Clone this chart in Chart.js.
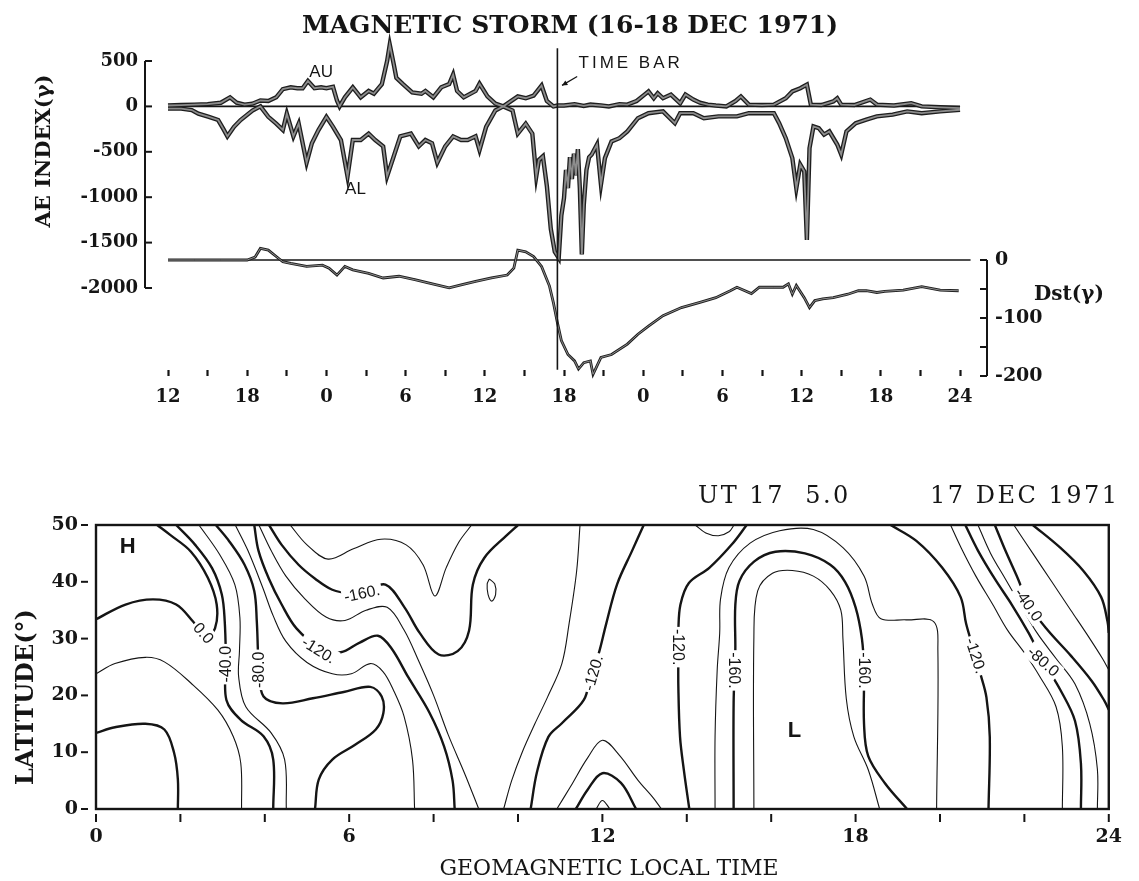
<!DOCTYPE html>
<html lang="en">
<head>
<meta charset="UTF-8">
<title>Magnetic Storm (16-18 Dec 1971)</title>
<script src="https://cdn.jsdelivr.net/npm/chart.js"></script>
<style>
  html, body { margin: 0; padding: 0; background: #fff; }
  body { width: 1139px; height: 881px; position: relative; overflow: hidden; }
  canvas { position: absolute; left: 0; }
  #stormChart { top: 0; }
  #mapChart { top: 430px; }
</style>
</head>
<body>
<canvas id="stormChart" width="1139" height="430"></canvas>
<canvas id="mapChart" width="1139" height="451"></canvas>
<script>
// ---- top panel: hours counted from 16 Dec 00 UT ----
const stormHourTicks = [12, 15, 18, 21, 24, 27, 30, 33, 36, 39, 42, 45, 48, 51, 54, 57, 60, 63, 66, 69, 72];
const aeTicks = [500, 0, -500, -1000, -1500, -2000];
const dstTicks = [0, -100, -200];
const dstBracketTicks = [0, -50, -100, -150, -200];
const timeBarHour = 41.5;

const auHour = [12, 13, 14, 15, 16, 16.7, 17.2, 17.8, 18.4, 19, 19.6, 20.2, 20.7, 21.3, 21.8, 22.2, 22.6, 23.1, 23.6, 24,
  24.5, 24.8, 25, 25.4, 26, 26.6, 27.2, 27.6, 28.2, 28.6, 28.8, 29.1, 29.3, 29.8, 30.5, 31.2, 31.5, 32.1, 32.7, 33.3,
  33.6, 33.9, 34.4, 35.3, 35.6, 36.2, 36.8, 37.4, 37.9, 38.5, 39.1, 39.7, 40.3, 40.7, 41.2, 41.5, 42, 42.8, 43.5, 44,
  44.8, 45.4, 46.2, 46.8, 47.5, 48.1, 48.4, 48.8, 49.1, 49.5, 50.1, 50.8, 51.2, 51.8, 52.3, 52.9, 53.5, 54.3, 55, 55.4,
  56, 57, 57.9, 58.8, 59.3, 59.9, 60.4, 60.7, 61.5, 62.4, 62.7, 63, 64, 65.2, 65.7, 67, 68.3, 69.1, 70.5, 72];
const auValue = [10, 15, 20, 25, 40, 100, 40, 20, 30, 65, 60, 100, 190, 210, 200, 200, 280, 200, 210, 200,
  215, 65, 0, 100, 210, 100, 170, 140, 245, 500, 680, 465, 315, 245, 155, 140, 170, 100, 210, 245,
  350, 170, 100, 170, 250, 110, 30, 0, 50, 110, 90, 120, 230, 60, 0, 10, 10, 25, 5, 20,
  10, 0, 25, 20, 60, 130, 165, 90, 145, 90, 130, 35, 130, 75, 40, 20, 10, 0, 60, 110,
  20, 15, 20, 90, 165, 200, 240, 20, 15, 55, 90, 20, 15, 75, 20, 10, 35, 0, -10, -20];

const alHour = [12, 13, 13.8, 14.3, 15.1, 15.8, 16.2, 16.5, 17, 17.5, 18.4, 19, 19.6, 20.2, 20.7, 21, 21.5, 21.9, 22.5, 22.9,
  23.4, 24, 24.5, 25.1, 25.6, 26, 26.6, 27.2, 27.7, 28.3, 28.6, 29.1, 29.6, 30.4, 31, 31.5, 32, 32.4, 33, 33.6,
  34.2, 34.7, 35.3, 35.6, 36.1, 36.8, 37.4, 38.1, 38.5, 39.1, 39.6, 39.9, 40.1, 40.4, 40.7, 41, 41.3, 41.6, 41.8, 42,
  42.15, 42.3, 42.45, 42.6, 42.75, 42.9, 43.05, 43.2, 43.35, 43.5, 43.7, 43.9, 44.1, 44.5, 44.8, 45.1, 45.6, 46.2, 46.8, 47.6,
  48.4, 49.5, 50.4, 50.8, 51.8, 52.6, 53.7, 55.1, 56, 57.9, 58.3, 58.8, 59.3, 59.6, 59.9, 60.2, 60.4, 60.6, 60.9, 61.3,
  61.7, 62.1, 62.7, 63, 63.4, 64.1, 64.9, 65.7, 66.9, 68, 69.1, 70.5, 72];
const alValue = [-25, -25, -40, -80, -115, -150, -250, -330, -225, -150, -45, 0, -115, -190, -260, -80, -330, -190, -620, -405,
  -260, -115, -225, -370, -770, -370, -370, -300, -370, -440, -770, -550, -330, -300, -440, -370, -405, -620, -440, -330,
  -370, -370, -330, -480, -225, -45, 0, -45, -300, -190, -300, -770, -590, -550, -875, -1350, -1600, -1670, -1200, -1010,
  -700, -900, -560, -800, -520, -760, -470, -900, -1630, -1080, -700, -560, -530, -420, -860, -570, -385, -350, -275, -130,
  -75, -55, -185, -75, -75, -130, -110, -110, -75, -75, -185, -350, -570, -900, -640, -715, -1470, -460, -220, -240,
  -310, -275, -420, -530, -275, -185, -145, -110, -90, -55, -75, -55, -37];

const dstHour = [12, 14, 16, 18, 18.6, 19, 19.6, 20.2, 20.7, 21.3, 22.5, 23.7, 24.2, 24.8, 25.4, 26, 27.2, 28.3, 29.5, 30.7,
  31.8, 33.3, 34.2, 35.3, 36.5, 37.7, 38.2, 38.5, 39.1, 39.7, 40.3, 40.9, 41.2, 41.5, 41.8, 42.3, 42.8, 43.1, 43.5, 44,
  44.2, 44.8, 45.6, 46.8, 47.6, 48.4, 49.5, 50.9, 52.3, 53.5, 54.6, 55.1, 56.2, 56.8, 57.9, 58.6, 59, 59.3, 59.6, 60.2,
  60.6, 61, 61.6, 62.4, 63.5, 64.3, 64.9, 65.7, 66.3, 67.7, 69.1, 70.5, 71.9];
const dstValue = [0, 0, 0, 0, 5, 20, 17, 6, -3, -6, -11, -9, -14, -26, -11, -17, -23, -31, -28, -34,
  -40, -48, -43, -37, -31, -26, -14, 17, 14, 6, -11, -45, -74, -108, -139, -163, -174, -188, -177, -174,
  -197, -168, -163, -145, -128, -114, -96, -82, -73, -65, -53, -47, -58, -47, -47, -47, -41, -59, -44, -65,
  -82, -70, -67, -65, -59, -53, -53, -56, -54, -52, -46, -52, -53];

// ---- bottom panel: contour lines as [geomagnetic local time (h), latitude (deg)] ----
const gmltTicks = [0, 2, 4, 6, 8, 10, 12, 14, 16, 18, 20, 22, 24];
const latTicks = [0, 10, 20, 30, 40, 50];

const ctrZeroWest = [[0, 33.4], [0.7, 36], [1.35, 36.9], [1.9, 36], [2.3, 33], [2.6, 30.3], [2.82, 31.8], [2.86, 36], [2.65, 40.7], [2.25, 45.3], [1.75, 48.3], [1.45, 50]];
const ctrM20West = [[0, 23.8], [0.45, 25.6], [1.17, 26.7], [1.62, 25.9], [2.26, 22.1], [2.89, 17.4], [3.25, 12.8], [3.43, 8.1], [3.45, 0]];
const ctrM40West = [[0, 13.4], [0.45, 14.4], [1.17, 15], [1.62, 14], [1.85, 9.9], [1.94, 5.2], [1.94, 0]];
const ctrM40 = [[1.9, 50], [2.35, 46.5], [2.75, 42.4], [2.98, 37.8], [3.05, 33.1], [3.08, 26], [3.09, 19.2], [3.43, 15.7], [3.97, 12.8], [4.2, 8.7], [4.2, 0]];
const ctrM60 = [[2.44, 50], [2.93, 44.8], [3.29, 39.5], [3.41, 33.7], [3.4, 27.9], [3.38, 23.3], [3.55, 18], [4.15, 13.4], [4.47, 8.7], [4.51, 0]];
const ctrM80 = [[2.84, 50], [3.16, 47.1], [3.52, 43], [3.75, 38.4], [3.81, 33.1], [3.84, 27.3], [3.86, 24.4], [3.97, 19.8], [4.42, 18.6], [5.14, 19.5], [5.87, 20.6], [6.5, 21.5], [6.77, 19.8], [6.81, 16.9], [6.63, 14], [6.14, 11.3], [5.6, 8.7], [5.28, 5.2], [5.19, 0]];
const ctrM100 = [[3.3, 50], [3.6, 45.5], [3.95, 39], [4.2, 34], [4.5, 29.5], [5, 25.8], [5.6, 23.8], [6.05, 23.8], [6.5, 25.6], [6.8, 24.2], [7.05, 20.9], [7.3, 16.3], [7.5, 8.7], [7.55, 0]];
const ctrM120 = [[3.75, 50], [3.85, 45.5], [4.1, 40.5], [4.4, 36], [4.75, 31.8], [5.3, 28.4], [5.8, 27.6], [6.25, 29.3], [6.68, 30.5], [7, 28.3], [7.4, 23.2], [7.9, 17], [8.25, 11], [8.45, 5], [8.5, 0]];
const ctrM140 = [[3.86, 50], [4.15, 45.5], [4.5, 41], [4.95, 37], [5.45, 33.8], [5.9, 33.2], [6.4, 35], [6.9, 35.5], [7.3, 31.5], [7.65, 26], [8, 20], [8.35, 13], [8.75, 6], [9.07, 0]];
const ctrM160 = [[4.1, 50], [4.4, 46.5], [4.8, 43], [5.2, 40.5], [5.6, 38.6], [6, 38], [6.36, 38.3], [6.86, 39.5], [7.31, 35.5], [7.67, 31], [8.12, 27.2], [8.57, 27.8], [8.84, 31.4], [8.93, 39.5], [9.2, 44.2], [9.75, 48.3], [10, 50]];
const ctrM180 = [[4.6, 50], [5, 46.5], [5.5, 44], [6.1, 45.8], [6.75, 47.5], [7.35, 46.5], [7.75, 43], [8.03, 37.5], [8.3, 42.5], [8.6, 47], [8.9, 50]];
const ctrLoop = [[9.32, 40.5], [9.45, 39.6], [9.47, 37.8], [9.38, 36.6], [9.29, 37.8], [9.27, 39.6], [9.32, 40.5]];
const ctrNoonThin = [[9.66, 0], [9.85, 5], [10.1, 10], [10.4, 15], [10.7, 19.7], [11.04, 25.6], [11.21, 32.6], [11.39, 41.9], [11.47, 50]];
const ctrNoonThick = [[10.3, 0], [10.45, 6.5], [10.72, 12.7], [11.04, 15.1], [11.56, 19.2], [11.72, 23.4], [11.91, 27.3], [12.09, 32.6], [12.35, 39.6], [12.7, 45.4], [12.98, 50]];
const ctrNoonArcOuter = [[10.92, 0], [11.25, 4], [11.65, 9], [12, 12.1], [12.4, 9.5], [12.85, 5], [13.2, 2], [13.4, 0]];
const ctrNoonArcInner = [[11.37, 0], [11.65, 3.4], [12, 6.3], [12.44, 4.6], [12.8, 0]];
const ctrNoonArcCore = [[11.85, 0], [12, 1.5], [12.18, 0]];
const ctrTopDip = [[14.2, 50], [14.45, 48.6], [14.75, 48.1], [15, 48.8], [15.12, 50]];
const ctrDuskM120 = [[15.42, 50], [15.07, 46.6], [14.54, 42.5], [14.05, 39.8], [13.85, 36], [13.8, 31.4], [13.8, 27.5], [13.8, 21.5], [13.84, 12.7], [13.93, 6.9], [14.06, 0]];
const ctrDuskM140 = [[14.67, 0], [14.67, 12.7], [14.72, 24.4], [14.78, 31], [14.8, 37], [15, 42.5], [15.5, 46.8], [16.2, 49], [17, 49.2], [17.7, 46], [18.2, 41], [18.4, 36], [18.6, 33.5], [19.2, 33.3], [19.85, 33], [19.95, 28], [19.92, 0]];
const ctrDuskM160 = [[15.11, 0], [15.11, 18.7], [15.15, 28], [15.15, 35.9], [15.25, 40.2], [15.6, 43.6], [16.1, 45.3], [16.8, 45], [17.4, 43], [17.75, 40], [18, 35.5], [18.15, 30], [18.2, 24.4], [18.2, 15], [18.3, 9.3], [18.7, 4.5], [19.22, 0]];
const ctrDuskM180 = [[15.59, 0], [15.59, 30.3], [15.68, 38.4], [16.03, 41.5], [16.5, 42], [17, 41], [17.4, 38.5], [17.65, 35], [17.7, 30], [17.78, 19.4], [17.96, 12.7], [18.3, 6.9], [18.57, 0]];
const ctrEveM120 = [[18.83, 50], [19.44, 47.2], [20.05, 42.5], [20.49, 37.3], [20.62, 32.6], [20.8, 28], [20.95, 24], [21.1, 19.7], [21.18, 12.7], [21.15, 0]];
const ctrEveM100 = [[20.25, 50], [20.5, 46], [20.85, 41], [21.25, 36], [21.6, 31.5], [22, 27.5], [22.35, 23.5], [22.75, 18], [22.9, 11], [22.9, 0]];
const ctrEveM80 = [[20.6, 50], [20.9, 45.5], [21.3, 40.5], [21.7, 36], [22.1, 31], [22.45, 26], [22.85, 21], [23.2, 15.5], [23.34, 8], [23.34, 0]];
const ctrEveM60 = [[20.9, 50], [21.2, 45], [21.55, 40.5], [21.9, 36], [22.3, 31], [22.75, 26.5], [23.2, 22], [23.55, 15], [23.73, 7], [23.73, 0]];
const ctrEveM40 = [[21.3, 50], [21.55, 45.5], [21.85, 40.5], [22.1, 36], [22.55, 31.5], [23.1, 27], [23.6, 22.5], [23.9, 19], [24, 17.5]];
const ctrEveM20 = [[21.75, 50], [22.2, 45], [22.65, 40], [23.1, 35], [23.55, 30], [23.85, 26.5], [24, 24.5]];
const ctrEveZero = [[22.2, 50], [22.85, 46], [23.4, 41.9], [23.82, 37.3], [23.97, 33], [24, 31]];

const contourLabelText = ['0.0', '-40.0', '-80.0', '-120.', '-160.', '-120.', '-120.', '-160.', '-160.', '-120.', '-40.0', '-80.0'];
const contourLabelHour = [2.55, 3.08, 3.86, 5.28, 6.3, 11.78, 13.8, 15.14, 18.22, 20.85, 22.1, 22.45];
const contourLabelLat = [31.0, 25.5, 24.5, 28.0, 38.0, 24.0, 28.5, 24.4, 24.4, 27.0, 36.0, 26.0];

// ---- styling ----
const SERIF = "'DejaVu Serif', 'Liberation Serif', serif";
const SANS = "'Liberation Sans', Arial, sans-serif";
const INK = '#151515';
Chart.defaults.color = INK;

const pts = (xs, ys) => xs.map((x, i) => ({ x: x, y: ys[i] }));
const auPts = pts(auHour, auValue);
const alPts = pts(alHour, alValue);
const dstPts = pts(dstHour, dstValue);

// pixel placement of the top panel: hour 12 -> 168px, hour 72 -> 960px, AE 500 -> 61px, AE -2000 -> 288px, Dst 0 -> 260px, Dst -200 -> 376px
const topArea = { left: 145, right: 987, top: 40, bottom: 370 };
const pxPerHour = (960 - 168) / 60;
const aePerPx = 2500 / (288 - 61);
const dstPerPx = 200 / (376 - 260);

function tag(ctx, text, x, y, deg, font, pad, align, spacing) {
  ctx.save();
  ctx.translate(x, y);
  ctx.rotate(deg * Math.PI / 180);
  ctx.font = font;
  if (spacing && 'letterSpacing' in ctx) ctx.letterSpacing = spacing;
  const w = ctx.measureText(text).width;
  if (pad) {
    ctx.fillStyle = '#fff';
    ctx.fillRect(-w / 2 - pad, -9, w + pad * 2, 18);
  }
  ctx.fillStyle = INK;
  ctx.textAlign = align || 'center';
  ctx.textBaseline = 'middle';
  ctx.fillText(text, 0, 1);
  ctx.restore();
}

const stormDecor = {
  id: 'stormDecor',
  afterDraw(chart) {
    const { ctx, chartArea: a } = chart;
    const { x, ae, dst } = chart.scales;
    ctx.save();
    ctx.strokeStyle = INK;
    ctx.lineWidth = 2;
    // AE bracket with ticks pointing inward
    ctx.beginPath();
    ctx.moveTo(a.left, ae.getPixelForValue(aeTicks[0]));
    ctx.lineTo(a.left, ae.getPixelForValue(aeTicks[aeTicks.length - 1]));
    ctx.stroke();
    aeTicks.forEach(v => {
      const y = ae.getPixelForValue(v);
      ctx.beginPath(); ctx.moveTo(a.left, y); ctx.lineTo(a.left + 7, y); ctx.stroke();
    });
    // Dst bracket
    ctx.beginPath();
    ctx.moveTo(a.right, dst.getPixelForValue(0));
    ctx.lineTo(a.right, dst.getPixelForValue(-200));
    ctx.stroke();
    dstBracketTicks.forEach(v => {
      const y = dst.getPixelForValue(v);
      ctx.beginPath(); ctx.moveTo(a.right, y); ctx.lineTo(a.right - 7, y); ctx.stroke();
    });
    // arrow pointing at the time bar
    const ax0 = x.getPixelForValue(43.0), ay0 = ae.getPixelForValue(330);
    const ax1 = x.getPixelForValue(41.85), ay1 = ae.getPixelForValue(231);
    ctx.lineWidth = 1.3;
    ctx.beginPath(); ctx.moveTo(ax0, ay0); ctx.lineTo(ax1, ay1); ctx.stroke();
    const ang = Math.atan2(ay1 - ay0, ax1 - ax0);
    ctx.beginPath();
    ctx.moveTo(ax1, ay1);
    ctx.lineTo(ax1 - 6 * Math.cos(ang - 0.45), ay1 - 6 * Math.sin(ang - 0.45));
    ctx.lineTo(ax1 - 6 * Math.cos(ang + 0.45), ay1 - 6 * Math.sin(ang + 0.45));
    ctx.closePath();
    ctx.fillStyle = INK;
    ctx.fill();
    ctx.restore();

    tag(ctx, 'MAGNETIC STORM (16-18 DEC 1971)', 570, 25, 0, `bold 25px ${SERIF}`);
    tag(ctx, 'AE INDEX(\u03b3)', 44, 151, -90, `bold 21px ${SERIF}`);
    tag(ctx, 'Dst(\u03b3)', 1069, 294, 0, `bold 20px ${SERIF}`);
    tag(ctx, 'TIME BAR', x.getPixelForValue(43.1), 62, 0, `17px ${SANS}`, 0, 'left', '3px');
    tag(ctx, 'AU', x.getPixelForValue(23.6), ae.getPixelForValue(390), 0, `17px ${SANS}`);
    tag(ctx, 'AL', x.getPixelForValue(26.2), ae.getPixelForValue(-900), 0, `17px ${SANS}`);
  }
};

const traceBase = { pointRadius: 0, fill: false, tension: 0, clip: false };
const storm = new Chart(document.getElementById('stormChart'), {
  type: 'line',
  data: {
    datasets: [
      { ...traceBase, label: 'time bar', data: [{ x: timeBarHour, y: 640 }, { x: timeBarHour, y: -2900 }], yAxisID: 'ae', borderColor: INK, borderWidth: 1.6, order: 0 },
      { ...traceBase, label: 'AU', data: auPts, yAxisID: 'ae', borderColor: '#8c8c8c', borderWidth: 1.8, order: 1 },
      { ...traceBase, label: 'AL', data: alPts, yAxisID: 'ae', borderColor: '#8c8c8c', borderWidth: 1.8, order: 1 },
      { ...traceBase, label: 'Dst', data: dstPts, yAxisID: 'dst', borderColor: '#9a9a9a', borderWidth: 0.9, order: 1 },
      { ...traceBase, label: 'AU edge', data: auPts, yAxisID: 'ae', borderColor: '#1e1e1e', borderWidth: 4.4, order: 2 },
      { ...traceBase, label: 'AL edge', data: alPts, yAxisID: 'ae', borderColor: '#1e1e1e', borderWidth: 4.4, order: 2 },
      { ...traceBase, label: 'Dst edge', data: dstPts, yAxisID: 'dst', borderColor: '#1e1e1e', borderWidth: 2.8, order: 2 },
      { ...traceBase, label: 'AE zero', data: [{ x: 12, y: 0 }, { x: 72, y: 0 }], yAxisID: 'ae', borderColor: INK, borderWidth: 1.8, order: 3 },
      { ...traceBase, label: 'Dst zero', data: [{ x: 12, y: 0 }, { x: 72.8, y: 0 }], yAxisID: 'dst', borderColor: INK, borderWidth: 1.5, order: 3 }
    ]
  },
  options: {
    responsive: false,
    animation: false,
    events: [],
    layout: { padding: { top: topArea.top, left: 0, right: 0, bottom: 0 } },
    plugins: { legend: { display: false }, tooltip: { enabled: false } },
    scales: {
      x: {
        type: 'linear',
        min: 12 - (168 - topArea.left) / pxPerHour,
        max: 72 + (topArea.right - 960) / pxPerHour,
        afterFit: s => { s.height = 430 - topArea.bottom; },
        afterBuildTicks: s => { s.ticks = stormHourTicks.map(v => ({ value: v })); },
        ticks: {
          autoSkip: false, maxRotation: 0, padding: 11,
          font: { family: SERIF, weight: 'bold', size: 18 },
          callback: v => (v % 6 === 0 ? (v === 72 ? '24' : String(v % 24)) : '')
        },
        grid: { display: true, drawOnChartArea: false, drawTicks: true, tickLength: 6, tickWidth: 2.2, tickColor: INK },
        border: { display: false }
      },
      ae: {
        type: 'linear', position: 'left',
        max: 500 + (61 - topArea.top) * aePerPx,
        min: -2000 - (topArea.bottom - 288) * aePerPx,
        afterFit: s => { s.width = topArea.left; },
        afterBuildTicks: s => { s.ticks = aeTicks.map(v => ({ value: v })); },
        ticks: { padding: 7, font: { family: SERIF, weight: 'bold', size: 18 }, callback: v => String(v) },
        grid: { display: false, drawTicks: false },
        border: { display: false }
      },
      dst: {
        type: 'linear', position: 'right',
        max: (260 - topArea.top) * dstPerPx,
        min: -(topArea.bottom - 260) * dstPerPx,
        afterFit: s => { s.width = 1139 - topArea.right; },
        afterBuildTicks: s => { s.ticks = dstTicks.map(v => ({ value: v })); },
        ticks: { padding: 8, font: { family: SERIF, weight: 'bold', size: 19 }, callback: v => String(v) },
        grid: { display: false, drawTicks: false },
        border: { display: false }
      }
    }
  },
  plugins: [stormDecor]
});

// ---- bottom panel ----
const contourLines = [
  { pts: ctrZeroWest, heavy: true }, { pts: ctrM20West, heavy: false }, { pts: ctrM40West, heavy: true },
  { pts: ctrM40, heavy: true }, { pts: ctrM60, heavy: false }, { pts: ctrM80, heavy: true },
  { pts: ctrM100, heavy: false }, { pts: ctrM120, heavy: true }, { pts: ctrM140, heavy: false },
  { pts: ctrM160, heavy: true }, { pts: ctrM180, heavy: false }, { pts: ctrLoop, heavy: false },
  { pts: ctrNoonThin, heavy: false }, { pts: ctrNoonThick, heavy: true }, { pts: ctrNoonArcOuter, heavy: false },
  { pts: ctrNoonArcInner, heavy: true }, { pts: ctrNoonArcCore, heavy: false }, { pts: ctrTopDip, heavy: false },
  { pts: ctrDuskM120, heavy: true }, { pts: ctrDuskM140, heavy: false }, { pts: ctrDuskM160, heavy: true },
  { pts: ctrDuskM180, heavy: false }, { pts: ctrEveM120, heavy: true }, { pts: ctrEveM100, heavy: false },
  { pts: ctrEveM80, heavy: true }, { pts: ctrEveM60, heavy: false }, { pts: ctrEveM40, heavy: true },
  { pts: ctrEveM20, heavy: false }, { pts: ctrEveZero, heavy: true }
];

const mapArea = { left: 96, right: 1122, top: 95, bottom: 379 };

const mapDecor = {
  id: 'mapDecor',
  afterDatasetsDraw(chart) {
    const { ctx, chartArea: a } = chart;
    const { x, y } = chart.scales;
    contourLabelText.forEach((t, i) => {
      const deg = [50, -90, -90, 32, -12, -74, 90, 90, 90, 72, 55, 42][i];
      tag(ctx, t, x.getPixelForValue(contourLabelHour[i]), y.getPixelForValue(contourLabelLat[i]), deg, `16px ${SANS}`, 2);
    });
    ctx.save();
    ctx.strokeStyle = INK;
    ctx.lineWidth = 2.4;
    ctx.strokeRect(a.left, a.top, a.right - a.left, a.bottom - a.top);
    ctx.lineWidth = 2;
    latTicks.forEach(v => {
      const py = y.getPixelForValue(v);
      ctx.beginPath(); ctx.moveTo(a.left - 15, py); ctx.lineTo(a.left - 8, py); ctx.stroke();
    });
    gmltTicks.forEach(v => {
      const px = x.getPixelForValue(v);
      ctx.beginPath(); ctx.moveTo(px, a.bottom + 5); ctx.lineTo(px, a.bottom + 13); ctx.stroke();
    });
    ctx.restore();
    tag(ctx, 'H', x.getPixelForValue(0.75), y.getPixelForValue(46.3), 0, `bold 22px ${SANS}`);
    tag(ctx, 'L', x.getPixelForValue(16.55), y.getPixelForValue(14), 0, `bold 22px ${SANS}`);
    ctx.save();
    ctx.font = `24px ${SERIF}`;
    if ('letterSpacing' in ctx) ctx.letterSpacing = '2.5px';
    ctx.fillStyle = INK;
    ctx.textBaseline = 'alphabetic';
    ctx.fillText('UT 17  5.0', 698, 73);
    ctx.fillText('17 DEC 1971', 930, 73);
    ctx.restore();
    tag(ctx, 'LATITUDE(\u00b0)', 26, 267, -90, `bold 24px ${SERIF}`);
    tag(ctx, 'GEOMAGNETIC LOCAL TIME', 609, 438, 0, `22px ${SERIF}`);
  }
};

const mapChart = new Chart(document.getElementById('mapChart'), {
  type: 'scatter',
  data: {
    datasets: contourLines.map(c => ({
      data: c.pts.map(p => ({ x: p[0], y: p[1] })),
      showLine: true,
      borderColor: INK,
      borderWidth: c.heavy ? 2.4 : 1.1,
      pointRadius: 0,
      tension: 0.35,
      fill: false
    }))
  },
  options: {
    responsive: false,
    animation: false,
    events: [],
    layout: { padding: { top: mapArea.top, right: 1139 - mapArea.right, left: 0, bottom: 0 } },
    plugins: { legend: { display: false }, tooltip: { enabled: false } },
    scales: {
      x: {
        type: 'linear', min: 0, max: 24,
        afterFit: s => { s.height = 451 - mapArea.bottom; },
        afterBuildTicks: s => { s.ticks = gmltTicks.map(v => ({ value: v })); },
        ticks: {
          autoSkip: false, maxRotation: 0, padding: 17,
          font: { family: SERIF, weight: 'bold', size: 19 },
          callback: v => (v % 6 === 0 ? String(v) : '')
        },
        grid: { display: false, drawTicks: false },
        border: { display: false }
      },
      y: {
        type: 'linear', min: 0, max: 50,
        afterFit: s => { s.width = mapArea.left; },
        afterBuildTicks: s => { s.ticks = latTicks.map(v => ({ value: v })); },
        ticks: { padding: 18, font: { family: SERIF, weight: 'bold', size: 19 } },
        grid: { display: false, drawTicks: false },
        border: { display: false }
      }
    }
  },
  plugins: [mapDecor]
});
</script>
</body>
</html>
